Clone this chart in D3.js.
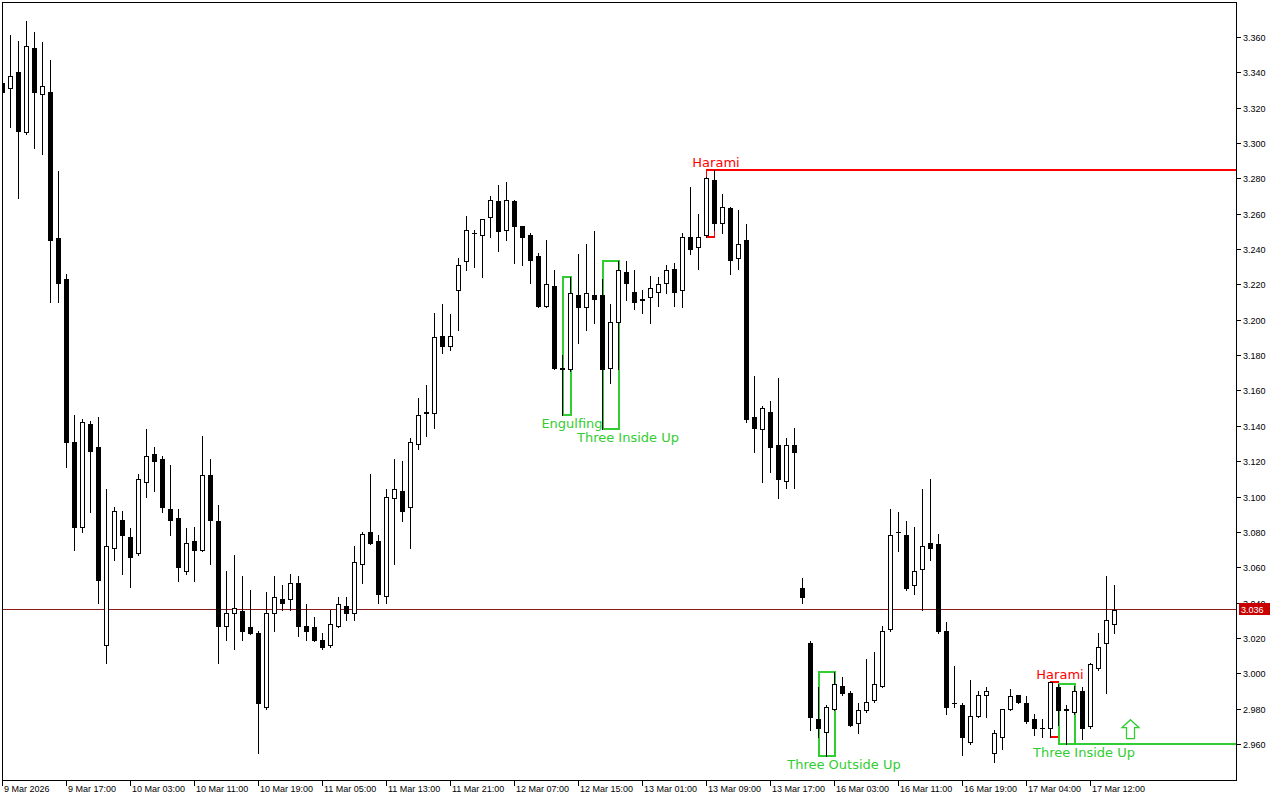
<!DOCTYPE html>
<html><head><meta charset="utf-8">
<script src="https://cdn.jsdelivr.net/npm/d3@7"></script>
<style>html,body{margin:0;padding:0;background:#fff;} svg{display:block;}</style>
</head><body><svg id="chart" width="1280" height="800"></svg>
<script>
// ---------- DATA ----------
const openP = [3.334,3.331,3.340,3.306,3.354,3.328,3.329,3.246,3.223,3.131,3.083,3.141,3.128,3.016,3.071,3.087,3.077,3.068,3.108,3.124,
3.121,3.093,3.088,3.058,3.075,3.070,3.112,3.086,3.027,3.034,3.035,3.026,3.023,2.981,3.034,3.042,3.042,3.051,3.027,3.026,
3.019,3.016,3.027,3.038,3.034,3.062,3.080,3.075,3.044,3.099,3.103,3.094,3.130,3.148,3.147,3.191,3.185,3.217,3.233,3.249,
3.248,3.258,3.267,3.251,3.267,3.253,3.248,3.236,3.208,3.219,3.173,3.172,3.214,3.207,3.214,3.214,3.173,3.199,3.227,3.216,
3.212,3.213,3.216,3.221,3.229,3.217,3.247,3.241,3.248,3.279,3.255,3.263,3.235,3.245,3.145,3.138,3.148,3.129,3.109,3.129,
3.048,3.017,2.974,2.967,2.980,2.993,2.989,2.972,2.979,2.985,2.993,3.025,3.080,3.078,3.050,3.059,3.074,3.073,3.024,2.983,
2.982,2.961,2.976,2.988,2.955,2.964,2.980,2.988,2.983,2.974,2.969,2.969,2.992,2.979,2.978,2.990,2.970,3.003,3.017,3.028];
const highP = [3.336,3.361,3.358,3.369,3.363,3.357,3.347,3.284,3.226,3.146,3.144,3.143,3.145,3.104,3.094,3.092,3.082,3.113,3.138,3.128,
3.123,3.118,3.093,3.082,3.083,3.134,3.121,3.095,3.058,3.067,3.055,3.047,3.024,3.046,3.055,3.050,3.056,3.055,3.039,3.032,
3.023,3.036,3.043,3.043,3.072,3.080,3.113,3.078,3.104,3.121,3.120,3.133,3.156,3.163,3.204,3.209,3.203,3.235,3.259,3.251,
3.257,3.270,3.276,3.278,3.268,3.253,3.249,3.238,3.245,3.228,3.180,3.224,3.237,3.243,3.250,3.223,3.209,3.233,3.233,3.228,
3.217,3.225,3.224,3.231,3.232,3.249,3.275,3.260,3.281,3.285,3.271,3.264,3.262,3.254,3.168,3.151,3.154,3.167,3.133,3.139,
3.054,3.018,2.992,2.982,3.001,2.998,2.990,2.983,3.008,3.012,3.027,3.093,3.091,3.086,3.083,3.104,3.110,3.079,3.029,3.004,
2.983,2.996,2.990,2.992,2.968,2.980,2.991,2.988,2.987,2.977,2.974,2.995,2.994,2.982,2.993,2.992,3.006,3.023,3.055,3.050];
const lowP = [3.327,3.309,3.269,3.305,3.297,3.294,3.210,3.210,3.117,3.070,3.080,3.091,3.040,3.006,3.064,3.056,3.049,3.067,3.100,3.103,
3.091,3.078,3.052,3.056,3.052,3.069,3.062,3.006,3.019,3.014,3.019,3.022,2.955,2.980,3.024,3.036,3.036,3.021,3.019,3.018,
3.014,3.015,3.026,3.030,3.030,3.051,3.073,3.040,3.040,3.062,3.086,3.071,3.127,3.134,3.139,3.181,3.183,3.194,3.228,3.230,
3.224,3.247,3.239,3.245,3.232,3.231,3.221,3.207,3.207,3.172,3.146,3.171,3.187,3.194,3.198,3.138,3.164,3.172,3.211,3.206,
3.204,3.198,3.208,3.215,3.208,3.207,3.237,3.229,3.247,3.251,3.249,3.226,3.229,3.142,3.125,3.108,3.114,3.099,3.105,3.105,
3.040,2.968,2.964,2.953,2.979,2.988,2.970,2.966,2.978,2.984,2.992,3.024,3.069,3.047,3.045,3.036,3.064,3.023,2.977,2.981,
2.954,2.960,2.975,2.975,2.950,2.957,2.979,2.983,2.972,2.965,2.964,2.964,2.971,2.960,2.977,2.963,2.969,3.002,2.989,3.023];
const closeP = [3.329,3.338,3.307,3.355,3.329,3.332,3.245,3.221,3.131,3.083,3.142,3.126,3.053,3.072,3.092,3.078,3.066,3.110,3.123,3.120,
3.094,3.087,3.060,3.074,3.070,3.112,3.087,3.027,3.034,3.037,3.024,3.023,2.983,3.034,3.043,3.040,3.051,3.027,3.024,3.019,
3.015,3.028,3.039,3.034,3.063,3.079,3.074,3.045,3.100,3.104,3.092,3.131,3.146,3.147,3.190,3.185,3.191,3.231,3.251,3.249,
3.257,3.268,3.250,3.268,3.253,3.247,3.234,3.208,3.220,3.173,3.172,3.215,3.207,3.215,3.212,3.172,3.199,3.228,3.221,3.210,
3.211,3.218,3.220,3.228,3.216,3.247,3.240,3.247,3.280,3.255,3.264,3.234,3.243,3.144,3.139,3.150,3.128,3.110,3.129,3.125,
3.043,2.975,2.969,2.981,2.994,2.989,2.971,2.979,2.984,2.994,3.024,3.078,3.080,3.048,3.058,3.072,3.071,3.024,2.981,2.983,
2.964,2.976,2.988,2.990,2.966,2.980,2.987,2.984,2.973,2.969,2.969,2.995,2.979,2.980,2.990,2.969,3.005,3.015,3.030,3.036];

const timeTickLabels = ["9 Mar 2026","9 Mar 17:00","10 Mar 03:00","10 Mar 11:00","10 Mar 19:00","11 Mar 05:00",
"11 Mar 13:00","11 Mar 21:00","12 Mar 07:00","12 Mar 15:00","13 Mar 01:00","13 Mar 09:00","13 Mar 17:00",
"16 Mar 03:00","16 Mar 11:00","16 Mar 19:00","17 Mar 04:00","17 Mar 12:00"];
const barsPerTimeTick = 8;
const priceTickValues = [2.960,2.980,3.000,3.020,3.040,3.060,3.080,3.100,3.120,3.140,3.160,3.180,3.200,3.220,3.240,3.260,3.280,3.300,3.320,3.340,3.360];
const lastPrice = 3.036;

const patternNames = ["Engulfing","Three Inside Up","Harami","Three Outside Up","Harami","Three Inside Up"];
const patternFrom  = [70, 75, 88, 102, 131, 132];
const patternTo    = [71, 77, 89, 104, 132, 134];
const patternKind  = ["bull","bull","bear","bull","bear","bull"];

const levelFrom  = [89, 132];
const levelPrice = [3.285, 2.960];
const levelKind  = ["bear","bull"];

const arrowBar = 141, arrowPrice = 2.963;

// ---------- LAYOUT / STYLE ----------
const plot = {left:2, top:2, right:1237, bottom:780};
const colors = {bull:"#32cd32", bear:"#ff0000", priceLine:"#8b1a1a", priceBox:"#c80000"};
const labelDx = {"Engulfing":10, "Three Inside Up":26, "Harami":10, "Three Outside Up":26};
const axisFont = "'Liberation Sans', Arial, sans-serif";
const labelFont = "'DejaVu Sans', sans-serif";

const svg = d3.select("#chart");
const x = d3.scaleLinear().domain([0, 1]).range([2, 10]);
const y = d3.scaleLinear().domain([2.960, 3.360]).range([744, 37]);
const px = i => Math.round(x(i));
const py = p => Math.round(y(p));

svg.append("rect").attr("width",1280).attr("height",800).attr("fill","#fff");

svg.append("defs").append("clipPath").attr("id","clip")
  .append("rect").attr("x",plot.left).attr("y",plot.top)
  .attr("width",plot.right-plot.left).attr("height",plot.bottom-plot.top);

const g = svg.append("g").attr("clip-path","url(#clip)").attr("shape-rendering","crispEdges");

const bars = d3.range(openP.length).map(i => ({i, o:openP[i], h:highP[i], l:lowP[i], c:closeP[i]}));

// current price line
g.append("line").attr("x1",plot.left).attr("x2",plot.right)
  .attr("y1",Math.floor(y(lastPrice))+0.5).attr("y2",Math.floor(y(lastPrice))+0.5)
  .attr("stroke",colors.priceLine).attr("stroke-width",1);

// levels (behind candles)
levelFrom.forEach((b,k) => {
  const yy = py(levelPrice[k]);
  g.append("line").attr("x1",px(b)).attr("x2",plot.right).attr("y1",yy).attr("y2",yy)
    .attr("stroke",colors[levelKind[k]]).attr("stroke-width",2);
});

// pattern rectangles (behind candles) & labels
patternNames.forEach((name,k) => {
  const a = patternFrom[k], b = patternTo[k];
  const hi = d3.max(highP.slice(a,b+1)), lo = d3.min(lowP.slice(a,b+1));
  const col = colors[patternKind[k]];
  const sw = patternKind[k]==="bull" ? 2 : 1.5;
  const x0 = px(a)+0.5, x1 = px(b)+0.5, y0 = py(hi), y1 = py(lo);
  g.append("rect").attr("x",x0).attr("y",y0).attr("width",x1-x0).attr("height",y1-y0)
    .attr("fill","none").attr("stroke",col).attr("stroke-width",sw);
  const ty = patternKind[k]==="bull" ? y1 + 13 : y0 - 3;
  svg.append("text").attr("x",px(a)+labelDx[name]).attr("y",ty)
    .attr("text-anchor","middle").attr("font-family",labelFont).attr("font-size",13)
    .attr("fill",col).text(name);
});

// wicks
g.selectAll("line.wick").data(bars).join("line").attr("class","wick")
  .attr("x1",d=>px(d.i)+0.5).attr("x2",d=>px(d.i)+0.5)
  .attr("y1",d=>py(d.h)).attr("y2",d=>py(d.l)+1)
  .attr("stroke","#000").attr("stroke-width",1);

// bodies
bars.forEach(d => {
  const xc = px(d.i);
  const top = py(Math.max(d.o,d.c)), bot = py(Math.min(d.o,d.c));
  if (d.c > d.o && bot - top >= 2) {
    g.append("rect").attr("x",xc-1.5).attr("y",top+0.5).attr("width",4).attr("height",bot-top)
      .attr("fill","#fff").attr("stroke","#000").attr("stroke-width",1);
  } else {
    g.append("rect").attr("x",xc-2).attr("y",top).attr("width",5).attr("height",Math.max(1,bot-top+1))
      .attr("fill","#000");
  }
});

// arrow
{
  const cx = px(arrowBar)+0.5, yb = y(arrowPrice);
  const pts = [[cx,yb-19],[cx+8.5,yb-11],[cx+4,yb-11],[cx+4,yb],[cx-4,yb],[cx-4,yb-11],[cx-8.5,yb-11]];
  svg.append("path").attr("d","M"+pts.map(p=>p.join(",")).join("L")+"Z")
    .attr("fill","#fff").attr("stroke",colors.bull).attr("stroke-width",1.3);
}

// frame
const fr = svg.append("g").attr("shape-rendering","crispEdges").attr("stroke","#000").attr("stroke-width",1);
fr.append("line").attr("x1",plot.left+0.5).attr("x2",plot.left+0.5).attr("y1",plot.top).attr("y2",plot.bottom+1);
fr.append("line").attr("x1",plot.right-0.5).attr("x2",plot.right-0.5).attr("y1",plot.top).attr("y2",plot.bottom+1);
fr.append("line").attr("x1",plot.left).attr("x2",plot.right).attr("y1",plot.top+0.5).attr("y2",plot.top+0.5);
fr.append("line").attr("x1",plot.left).attr("x2",plot.right).attr("y1",plot.bottom+0.5).attr("y2",plot.bottom+0.5);

// price axis
const ya = svg.append("g");
priceTickValues.forEach(p => {
  const yy = py(p)+0.5;
  ya.append("line").attr("x1",plot.right).attr("x2",plot.right+4).attr("y1",yy).attr("y2",yy)
    .attr("stroke","#000").attr("shape-rendering","crispEdges");
  ya.append("text").attr("x",plot.right+6).attr("y",yy+3.5).attr("font-family",axisFont).attr("font-size",9)
    .attr("fill","#000").text(d3.format(".3f")(p));
});
// last price box
{
  const yy = Math.floor(y(lastPrice));
  ya.append("rect").attr("x",plot.right+2).attr("y",yy-6).attr("width",31).attr("height",12).attr("fill",colors.priceBox);
  ya.append("text").attr("x",plot.right+4).attr("y",yy+3.5).attr("font-family",axisFont).attr("font-size",9)
    .attr("fill","#fff").text(d3.format(".3f")(lastPrice));
}

// time axis
const xa = svg.append("g");
timeTickLabels.forEach((lab,k) => {
  const xx = px(k*barsPerTimeTick)+0.5;
  xa.append("line").attr("x1",xx).attr("x2",xx).attr("y1",plot.bottom).attr("y2",plot.bottom+6)
    .attr("stroke","#000").attr("shape-rendering","crispEdges");
  xa.append("text").attr("x",xx+1.5).attr("y",plot.bottom+12).attr("font-family",axisFont).attr("font-size",9)
    .attr("fill","#000").text(lab);
});
</script></body></html>
